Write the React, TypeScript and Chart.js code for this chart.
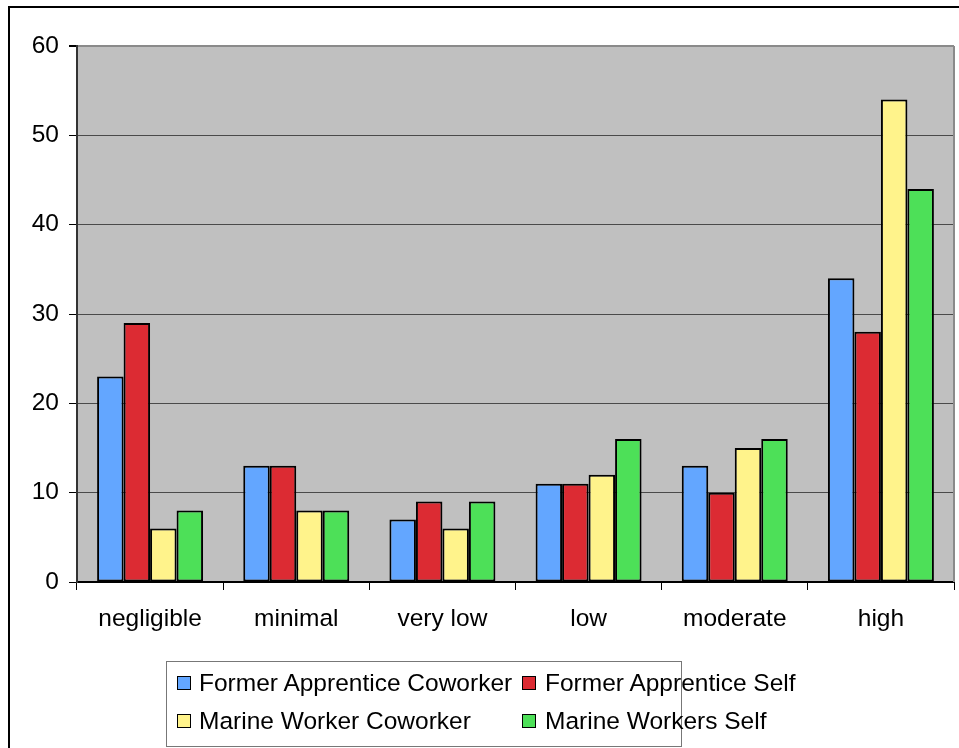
import React, { useEffect, useRef } from "react";
import { Chart, registerables } from "chart.js";

Chart.register(...registerables);

const categories = ["negligible", "minimal", "very low", "low", "moderate", "high"];
const seriesNames = [
  "Former Apprentice Coworker",
  "Former Apprentice Self",
  "Marine Worker Coworker",
  "Marine Workers Self",
];
const formerApprenticeCoworker = [23, 13, 7, 11, 13, 34];
const formerApprenticeSelf = [29, 13, 9, 11, 10, 28];
const marineWorkerCoworker = [6, 8, 6, 12, 15, 54];
const marineWorkersSelf = [8, 8, 9, 16, 16, 44];
const seriesColors = ["#63A6FF", "#DC2B33", "#FFF38B", "#4DE058"];
const yTicks = [0, 10, 20, 30, 40, 50, 60];

const FONT = "'Liberation Sans', Arial, sans-serif";

const plotBg = {
  id: "plotBg",
  beforeDraw(chart: any) {
    const { ctx, chartArea } = chart;
    ctx.save();
    ctx.fillStyle = "#C0C0C0";
    ctx.fillRect(chartArea.left, chartArea.top, chartArea.right - chartArea.left, chartArea.bottom - chartArea.top);
    ctx.restore();
  },
  afterDatasetsDraw(chart: any) {
    const { ctx, chartArea } = chart;
    ctx.save();
    ctx.strokeStyle = "#8A8A8A";
    ctx.lineWidth = 2;
    ctx.beginPath();
    ctx.moveTo(chartArea.right, chartArea.top);
    ctx.lineTo(chartArea.right, chartArea.bottom);
    ctx.stroke();
    ctx.restore();
  },
};

export default function App() {
  const ref = useRef<HTMLCanvasElement | null>(null);
  useEffect(() => {
    if (!ref.current) return;
    const values = [formerApprenticeCoworker, formerApprenticeSelf, marineWorkerCoworker, marineWorkersSelf];
    const chart = new Chart(ref.current, {
      type: "bar",
      data: {
        labels: categories,
        datasets: seriesNames.map((name, i) => ({
          label: name,
          data: values[i],
          backgroundColor: seriesColors[i],
          borderColor: "#000",
          borderWidth: 2,
          borderSkipped: false,
          categoryPercentage: 0.725,
          barPercentage: 1,
        })),
      },
      options: {
        animation: false,
        responsive: false,
        devicePixelRatio: 1,
        layout: { padding: { left: 0, top: 46, right: 5, bottom: 0 } },
        plugins: { legend: { display: false }, tooltip: { enabled: false } },
        scales: {
          x: {
            afterFit: (s: any) => {
              s.height = 166;
            },
            grid: {
              offset: true,
              drawOnChartArea: false,
              drawTicks: true,
              tickLength: 8,
              tickColor: "#000",
              color: "#000",
            },
            border: { display: true, color: "#000", width: 2 },
            ticks: { color: "#000", font: { family: FONT, size: 24.5 }, padding: 15 },
          },
          y: {
            min: 0,
            max: 60,
            afterFit: (s: any) => {
              s.width = 77;
            },
            afterBuildTicks: (s: any) => {
              s.ticks = yTicks.map((v) => ({ value: v }));
            },
            grid: {
              color: (c: any) => (c.tick && c.tick.value === 60 ? "#8A8A8A" : c.tick && c.tick.value === 0 ? "#000" : "#4A4A4A"),
              lineWidth: (c: any) => (c.tick && c.tick.value === 60 ? 2 : 1),
              tickColor: "#000",
              tickLength: 8,
              drawTicks: true,
            },
            border: { display: true, color: "#333", width: 2 },
            ticks: { color: "#000", font: { family: FONT, size: 24.5 }, padding: 10 },
          },
        },
      },
      plugins: [plotBg],
    });
    return () => chart.destroy();
  }, []);

  const legendItems = [
    { x: 177, y: 683, textX: 199 },
    { x: 522, y: 683, textX: 545 },
    { x: 177, y: 721, textX: 199 },
    { x: 522, y: 721, textX: 545 },
  ];

  return (
    <div
      style={{
        position: "fixed",
        left: 0,
        top: 0,
        width: 959,
        height: 748,
        overflow: "hidden",
        background: "#fff",
      }}
    >
      <div
        style={{
          position: "absolute",
          left: 8,
          top: 6,
          width: 1000,
          height: 800,
          borderLeft: "2px solid #000",
          borderTop: "2px solid #000",
        }}
      />
      <canvas
        ref={ref}
        width={959}
        height={748}
        style={{ position: "absolute", left: 0, top: 0, width: 959, height: 748 }}
      />
      <div
        style={{
          position: "absolute",
          left: 166,
          top: 661,
          width: 514,
          height: 84,
          border: "1px solid #777",
          background: "#fff",
        }}
      />
      {legendItems.map((it, i) => (
        <React.Fragment key={i}>
          <div
            style={{
              position: "absolute",
              left: it.x,
              top: it.y - 7,
              width: 12,
              height: 12,
              background: seriesColors[i],
              border: "1.5px solid #000",
            }}
          />
          <div
            style={{
              position: "absolute",
              left: it.textX,
              top: it.y - 14,
              height: 28,
              lineHeight: "28px",
              fontFamily: FONT,
              fontSize: 24.5,
              color: "#000",
              whiteSpace: "nowrap",
            }}
          >
            {seriesNames[i]}
          </div>
        </React.Fragment>
      ))}
    </div>
  );
}
